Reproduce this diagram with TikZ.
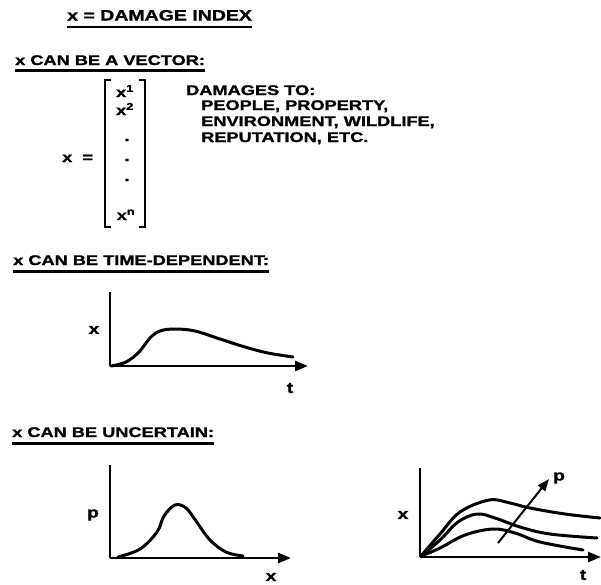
\documentclass[tikz,border=0pt]{standalone}
\usepackage{fontspec}
\setmainfont{Liberation Sans}[FakeStretch=1.3,FakeBold=1.4]
\usetikzlibrary{arrows.meta}
\begin{document}
\begin{tikzpicture}[x=1pt,y=-1pt,
  txt/.style={inner sep=0pt,anchor=base west,font=\bfseries\fontsize{14}{16}\selectfont},
  ttl/.style={txt,font=\bfseries\fontsize{15}{17}\selectfont},
  ent/.style={inner sep=0pt,anchor=base,font=\bfseries\fontsize{14}{16}\selectfont},
  lbl/.style={inner sep=0pt,font=\bfseries\fontsize{15}{17}\selectfont},
  uline/.style={line width=2.8pt},
  brk/.style={line width=2.2pt},
  axis/.style={line width=2.6pt,-{Triangle[length=13pt,width=10pt]}},
  yaxis/.style={line width=2.6pt},
  curve/.style={line width=3pt,line cap=round,line join=round},
  parrow/.style={line width=2pt,-{Triangle[length=12pt,width=9pt]}}
]
\useasboundingbox (0,0) rectangle (601,584);

% title and headers
\node[ttl] (title) at (67,20.5) {x = DAMAGE INDEX};
\draw[uline] ([yshift=-6.5pt]title.base west) -- ([yshift=-6.5pt]title.base east);

\node[txt] (h1) at (15,65) {x CAN BE A VECTOR:};
\draw[uline] ([yshift=-5.5pt]h1.base west) -- ([yshift=-5.5pt]h1.base east);

\node[txt] (h2) at (13,265) {x CAN BE TIME-DEPENDENT:};
\draw[uline] ([yshift=-6.5pt]h2.base west) -- ([yshift=-6.5pt]h2.base east);

\node[txt] (h3) at (12,437) {x CAN BE UNCERTAIN:};
\draw[uline] ([yshift=-6.5pt]h3.base west) -- ([yshift=-6.5pt]h3.base east);

% vector
\node[txt] (xeq) at (62,162) {x \ =};
\coordinate (lbt) at (105,80);
\coordinate (lbb) at (105,227);
\coordinate (rbt) at (145,80);
\coordinate (rbb) at (145,227);
\draw[brk] ([xshift=6pt]lbt) -- (lbt) -- (lbb) -- ([xshift=6pt]lbb);
\draw[brk] ([xshift=-6pt]rbt) -- (rbt) -- (rbb) -- ([xshift=-6pt]rbb);
\node[ent] (e1) at (125,97) {x\textsuperscript{1}};
\node[ent] (e2) at (125,115) {x\textsuperscript{2}};
\node[ent] (d1) at (127,141) {.};
\node[ent] (d2) at (127,161) {.};
\node[ent] (d3) at (127,181) {.};
\node[ent] (en) at (126,220) {x\textsuperscript{n}};

\node[txt] (dm) at (186,95) {DAMAGES TO:};
\node[txt] (dm1) at (201,110) {PEOPLE, PROPERTY,};
\node[txt] (dm2) at (201,126) {ENVIRONMENT, WILDLIFE,};
\node[txt] (dm3) at (201,142) {REPUTATION, ETC.};

% graph 1
\coordinate (o1) at (110,366);
\coordinate (y1) at (110,292);
\coordinate (t1) at (308,366);
\draw[yaxis] (y1) -- (o1);
\draw[axis] (o1) -- (t1);
\node[lbl] (lx1) at (94,330) {x};
\node[lbl] (lt1) at (290,388) {t};
\draw[curve] plot[smooth,tension=0.6] coordinates {(111,366) (126,362) (139,352) (150,338) (160,331) (175,329) (195,331) (220,339) (245,347) (268,353) (293,357)};

% graph 2
\coordinate (o2) at (110,558);
\coordinate (y2) at (110,465);
\coordinate (t2) at (291,558);
\draw[yaxis] (y2) -- (o2);
\draw[axis] (o2) -- (t2);
\node[lbl] (lp2) at (93,515) {p};
\node[lbl] (lx2) at (271,577) {x};
\draw[curve] plot[smooth,tension=0.6] coordinates {(118,557) (140,549) (157,532) (164,516) (175,505) (186,508) (196,521) (210,540) (226,552) (243,556)};

% graph 3
\coordinate (o3) at (420,557);
\coordinate (y3) at (420,468);
\coordinate (t3) at (601,557);
\draw[yaxis] (y3) -- (o3);
\draw[axis] (o3) -- (t3);
\node[lbl] (lx3) at (403,515) {x};
\node[lbl] (lt3) at (583,575) {t};
\node[lbl] (lp3) at (559,478) {p};
\draw[curve] plot[smooth,tension=0.6] coordinates {(421,556) (440,534) (460,512) (489,500) (510,503) (530,508) (565,514) (600,518)};
\draw[curve] plot[smooth,tension=0.6] coordinates {(421,556) (440,540) (458,522) (477,514) (495,518) (520,527) (550,534) (597,538)};
\draw[curve] plot[smooth,tension=0.6] coordinates {(421,556) (440,548) (465,535) (493,529) (515,533) (540,542) (583,550)};
\coordinate (pa) at (498,543);
\coordinate (pb) at (549,479);
\draw[parrow] (pa) -- (pb);
\end{tikzpicture}
\end{document}
